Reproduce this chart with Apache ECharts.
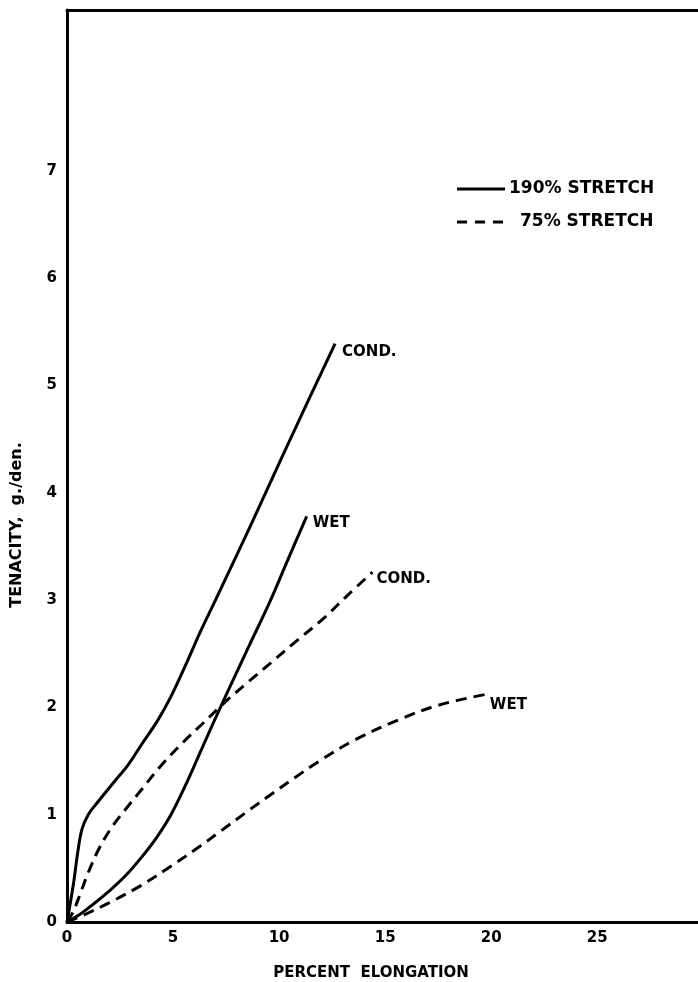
<!DOCTYPE html>
<html>
<head>
<meta charset="utf-8">
<style>
  html, body { margin: 0; padding: 0; background: #fff; }
  #chart { width: 698px; height: 982px; }
</style>
<script src="https://cdn.jsdelivr.net/npm/echarts@6/dist/echarts.min.js"></script>
</head>
<body>
<div id="chart"></div>
<script>
// Stress-strain curves: tenacity (g./den.) against percent elongation
const stretch190Cond = [
  [0, 0], [0.3, 0.35], [0.5, 0.64], [0.7, 0.86], [1.0, 1.0], [1.5, 1.13],
  [2.2, 1.3], [2.9, 1.47], [3.5, 1.65], [4.25, 1.87], [4.9, 2.1],
  [5.65, 2.42], [6.3, 2.71], [7.0, 3.0], [8.6, 3.67], [10.2, 4.36],
  [11.4, 4.87], [12.64, 5.39]
];
const stretch190Wet = [
  [0, 0], [0.6, 0.07], [1.2, 0.16], [2.0, 0.29], [2.8, 0.44], [3.5, 0.6],
  [4.2, 0.78], [4.9, 1.0], [5.6, 1.28], [6.3, 1.59], [7.0, 1.9],
  [7.7, 2.2], [8.6, 2.58], [9.6, 3.0], [10.4, 3.37], [11.3, 3.78]
];
const stretch75Cond = [
  [0, 0], [0.3, 0.1], [0.6, 0.25], [1.0, 0.46], [1.5, 0.68], [2.1, 0.88],
  [2.8, 1.06], [3.5, 1.23], [4.4, 1.45], [5.5, 1.68], [6.4, 1.85],
  [7.4, 2.04], [8.5, 2.23], [9.7, 2.43], [10.7, 2.6], [12.1, 2.83],
  [13.2, 3.04], [14.4, 3.26]
];
const stretch75Wet = [
  [0, 0], [0.85, 0.07], [2.0, 0.18], [3.4, 0.33], [4.9, 0.52], [6.3, 0.71],
  [7.2, 0.84], [8.5, 1.03], [9.7, 1.2], [10.7, 1.34], [11.9, 1.5],
  [13.5, 1.69], [15.7, 1.89], [17.5, 2.02], [19.7, 2.12]
];
const xTicks = [0, 5, 10, 15, 20, 25];
const yTicks = [0, 1, 2, 3, 4, 5, 6, 7];
const legendNames = ['190% STRETCH', '75% STRETCH'];
const xTitle = 'PERCENT  ELONGATION';
const yTitle = 'TENACITY,  g./den.';

const FONT = '"DejaVu Sans", "Liberation Sans", sans-serif';
const INK = '#000';
const frameLine = { show: true, onZero: false, lineStyle: { color: INK, width: 3 } };

function curve(data, dashed, label, offset) {
  return {
    type: 'line',
    data: data,
    smooth: 0.35,
    showSymbol: false,
    symbol: 'none',
    silent: true,
    lineStyle: { color: INK, width: 3, type: dashed ? [11, 7] : 'solid' },
    endLabel: {
      show: true,
      formatter: label,
      color: INK,
      fontFamily: FONT,
      fontWeight: 'bold',
      fontSize: 15,
      offset: offset,
      align: 'left',
      distance: 0
    }
  };
}

const chart = echarts.init(document.getElementById('chart'), null, { renderer: 'canvas' });
chart.setOption({
  animation: false,
  backgroundColor: '#fff',
  grid: { left: 67, top: 10, right: 0, bottom: 60, show: false },
  xAxis: [
    {
      type: 'value', min: 0, max: 29.75, interval: 5, position: 'bottom',
      axisLine: frameLine,
      axisTick: { show: false },
      splitLine: { show: false },
      axisLabel: {
        margin: 9, color: INK, fontFamily: FONT, fontWeight: 'bold', fontSize: 15,
        showMaxLabel: false,
        formatter: v => (xTicks.indexOf(v) >= 0 ? String(v) : '')
      }
    },
    {
      type: 'value', min: 0, max: 29.75, interval: 5, position: 'top',
      axisLine: frameLine,
      axisTick: { show: false },
      splitLine: { show: false },
      axisLabel: { show: false }
    }
  ],
  yAxis: {
    type: 'value', min: 0, max: 8.5, interval: 1,
    axisLine: frameLine,
    axisTick: { show: false },
    splitLine: { show: false },
    axisLabel: {
      margin: 10, color: INK, fontFamily: FONT, fontWeight: 'bold', fontSize: 15,
      formatter: v => (yTicks.indexOf(v) >= 0 ? String(v) : '')
    }
  },
  series: [
    curve(stretch190Cond, false, 'COND.', [7, 8]),
    curve(stretch190Wet, false, 'WET', [6, 7]),
    curve(stretch75Cond, true, 'COND.', [4, 7]),
    curve(stretch75Wet, true, 'WET', [5, 11])
  ],
  graphic: [
    // key
    { type: 'line', shape: { x1: 457, y1: 189, x2: 505, y2: 189 },
      style: { stroke: INK, lineWidth: 3 } },
    { type: 'text', x: 509, y: 189,
      style: { text: legendNames[0], fill: INK, font: 'bold 17px ' + FONT, textVerticalAlign: 'middle' } },
    { type: 'line', shape: { x1: 457, y1: 222, x2: 505, y2: 222 },
      style: { stroke: INK, lineWidth: 3, lineDash: [10, 8] } },
    { type: 'text', x: 520, y: 222,
      style: { text: legendNames[1], fill: INK, font: 'bold 17px ' + FONT, textVerticalAlign: 'middle' } },
    // axis titles
    { type: 'text', x: 371, y: 973,
      style: { text: xTitle, fill: INK, font: 'bold 15px ' + FONT, textAlign: 'center', textVerticalAlign: 'middle' } },
    { type: 'text', x: 17, y: 525, rotation: Math.PI / 2,
      style: { text: yTitle, fill: INK, font: 'bold 16px ' + FONT, textAlign: 'center', textVerticalAlign: 'middle' } }
  ]
});
</script>
</body>
</html>
